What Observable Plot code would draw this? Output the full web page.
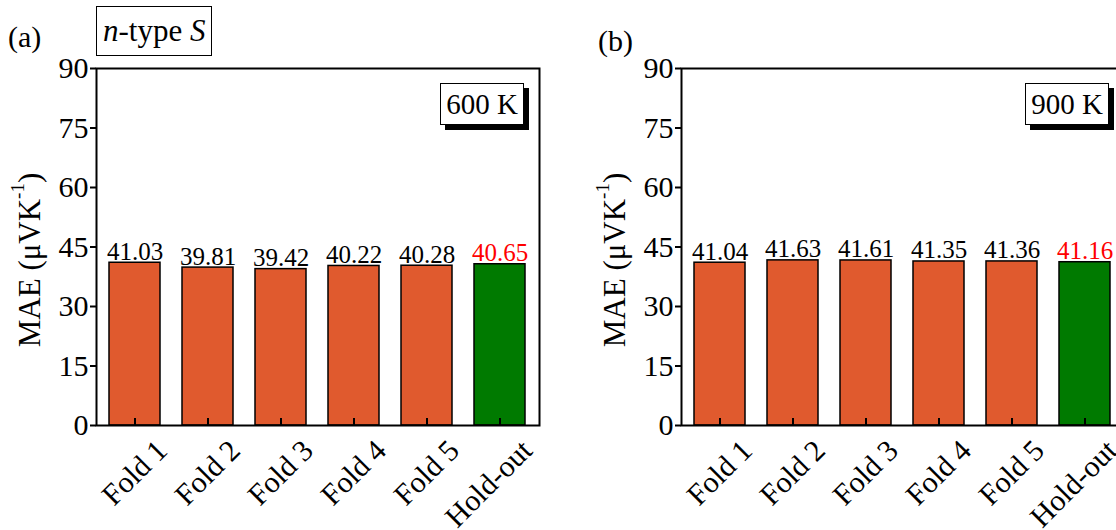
<!DOCTYPE html>
<html>
<head>
<meta charset="utf-8">
<script src="https://cdn.jsdelivr.net/npm/d3@7"></script>
<script src="https://cdn.jsdelivr.net/npm/@observablehq/plot@0.6"></script>
<style>
  html, body { margin: 0; padding: 0; background: #fff; }
  body { width: 1116px; height: 530px; overflow: hidden; position: relative;
         font-family: "Liberation Serif", "Times New Roman", serif; color: #000; }
  .panel { position: absolute; top: 0; width: 558px; height: 530px; }
  .panel svg { max-width: none !important; }
  .tag { position: absolute; font-size: 30px; line-height: 1; }
  .box { position: absolute; border: 1.5px solid #000; background: #fff;
         font-size: 29px; line-height: 40px; padding: 0 5px; white-space: nowrap; }
  .shadow { box-shadow: 5px 5px 0 #000; }
</style>
</head>
<body>
<div id="pa" class="panel" style="left:0px"></div>
<div id="pb" class="panel" style="left:585px"></div>
<div class="tag" style="left:8px; top:22px">(a)</div>
<div class="tag" style="left:598px; top:26px">(b)</div>
<div class="box" style="left:96px; top:6px; line-height:48px; padding:0 6px; font-size:31px"><i>n</i>-type <i>S</i></div>
<div class="box shadow" style="right:592px; top:83px">600 K</div>
<div class="box shadow" style="right:7px; top:83px">900 K</div>
<script>
const categories = ["Fold 1", "Fold 2", "Fold 3", "Fold 4", "Fold 5", "Hold-out"];
const mae600K = [41.03, 39.81, 39.42, 40.22, 40.28, 40.65];
const mae900K = [41.04, 41.63, 41.61, 41.35, 41.36, 41.16];
const yTicks = [0, 15, 30, 45, 60, 75, 90];

const SERIF = '"Liberation Serif", "Times New Roman", serif';
const ORANGE = "#E05A2E";
const GREEN = "#007A00";

function panel(values) {
  const data = categories.map((c, i) => ({cat: c, val: values[i]}));
  const isHold = d => d.cat === "Hold-out";
  const svg = Plot.plot({
    width: 558, height: 530,
    marginLeft: 96, marginTop: 68, marginRight: 19, marginBottom: 105,
    style: {fontFamily: SERIF, fontSize: "30px", color: "#000", background: "transparent", overflow: "visible", maxWidth: "none"},
    x: {domain: categories, paddingInner: 0.3, paddingOuter: 0.15, label: null},
    y: {domain: [0, 90], label: null},
    color: {type: "identity"},
    marks: [
      Plot.barY(data, {x: "cat", y: "val", fill: d => isHold(d) ? GREEN : ORANGE, stroke: "#000", strokeWidth: 1.5}),
      Plot.text(data, {x: "cat", y: "val", text: d => d.val.toFixed(2), fill: d => isHold(d) ? "#FF0000" : "#000",
                       lineAnchor: "bottom", dy: -3, fontSize: 25}),
      Plot.axisY({ticks: yTicks, tickSize: 6, tickPadding: 2, fontSize: 30, label: null, strokeWidth: 2}),
      Plot.axisX({tickSize: 7, dy: -7, tickFormat: () => "", label: null, strokeWidth: 2}),
      Plot.axisX({tickSize: 0, tickRotate: -45, tickPadding: 20, dx: 27, fontSize: 30, label: null}),
      Plot.frame({stroke: "#000", strokeWidth: 2})
    ]
  });
  const lab = d3.select(svg).append("text")
    .attr("transform", "translate(29,260) rotate(-90)")
    .attr("text-anchor", "middle")
    .attr("dominant-baseline", "central")
    .attr("font-family", SERIF)
    .attr("font-size", 31)
    .attr("fill", "#000");
  lab.append("tspan").text("MAE (μVK");
  lab.append("tspan").attr("font-size", 19).attr("dy", -12).text("-1");
  lab.append("tspan").attr("dy", 12).text(")");
  return svg;
}

document.getElementById("pa").appendChild(panel(mae600K));
document.getElementById("pb").appendChild(panel(mae900K));
</script>
</body>
</html>
